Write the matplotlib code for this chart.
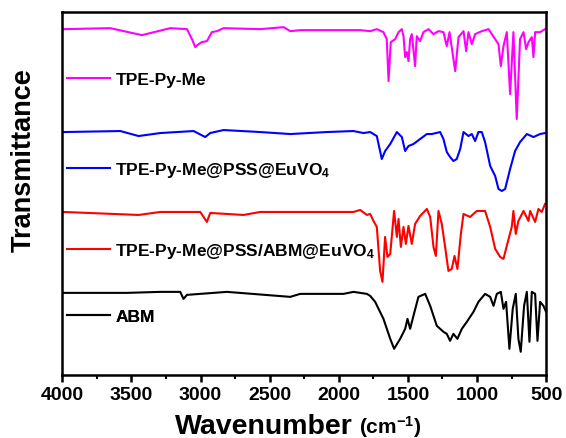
import numpy as np
import matplotlib
matplotlib.use("Agg")
import matplotlib.pyplot as plt
from matplotlib.ticker import MultipleLocator

plt.rcParams['font.family'] = ['Liberation Sans', 'DejaVu Sans']
plt.rcParams['font.weight'] = 'bold'
plt.rcParams['mathtext.fontset'] = 'custom'
plt.rcParams['mathtext.default'] = 'bf'
plt.rcParams['mathtext.bf'] = 'Liberation Sans:bold'
plt.rcParams['mathtext.rm'] = 'Liberation Sans:bold'

# ---- spectra (wavenumber, stacked transmittance a.u.) ----
wn_me = [3990, 3653, 3424, 3219, 3098, 3062, 3038, 3014, 2990, 2954, 2918, 2881, 2833,
         2568, 2399, 2351, 2279, 1966, 1845,
         1773, 1725, 1677, 1653, 1640, 1624, 1592, 1568, 1544, 1532, 1520, 1508, 1496,
         1484, 1472, 1448, 1436, 1412, 1388, 1351, 1315, 1279, 1243, 1219, 1199, 1158,
         1134, 1098, 1079, 1062, 1038, 1014, 966, 917, 869, 845, 828, 809, 785, 761,
         737, 713, 689, 664, 645, 628, 604, 592, 580, 544, 508]
t_me = [346, 347, 340, 347, 346, 336, 328, 331, 333, 334, 343, 344, 347,
        346, 348, 344, 345, 345, 345,
        344, 346, 343, 336, 294, 333, 336, 343, 346, 339, 318, 323, 314,
        336, 341, 309, 339, 334, 343, 346, 341, 344, 343, 329, 343, 304,
        338, 344, 324, 343, 331, 341, 344, 346, 336, 331, 309, 329, 343, 281,
        343, 256, 336, 343, 326, 333, 338, 318, 343, 343, 346]

wn_pss = [3990, 3580, 3448, 3291, 3050, 2966, 2930, 2833, 2568, 2351, 2086, 1894, 1821,
          1773, 1725, 1689, 1665, 1628, 1580, 1544, 1520, 1496, 1460, 1412, 1363, 1327,
          1267, 1243, 1219, 1195, 1171, 1147, 1122, 1098, 1062, 1038, 1014, 990, 966,
          942, 905, 869, 845, 821, 797, 761, 725, 689, 640, 592, 544, 508]
t_pss = [243, 244, 239, 242, 244, 238, 242, 245, 243, 241, 243, 244, 242,
         243, 239, 216, 224, 231, 243, 238, 224, 229, 231, 236, 241, 241,
         243, 236, 223, 218, 214, 216, 226, 243, 239, 241, 234, 243, 243,
         233, 209, 199, 186, 184, 186, 206, 224, 233, 241, 238, 241, 242]

wn_abm_pss = [3990, 3448, 3291, 3002, 2954, 2930, 2689, 2568, 1894, 1845, 1797,
              1773, 1749, 1725, 1701, 1684, 1665, 1648, 1628, 1600, 1580, 1568, 1551,
              1532, 1515, 1496, 1472, 1448, 1412, 1363, 1339, 1315, 1298, 1279, 1255,
              1231, 1207, 1183, 1163, 1142, 1117, 1098, 1050, 1002, 942, 905, 869, 833,
              809, 785, 749, 737, 720, 701, 664, 628, 616, 580, 556, 532, 508]
t_abm_pss = [163, 160, 163, 163, 153, 162, 160, 163, 163, 165, 160,
             161, 154, 148, 104, 93, 138, 118, 121, 164, 138, 156, 128,
             148, 131, 149, 131, 151, 159, 166, 158, 128, 119, 164, 151,
             128, 104, 106, 119, 106, 141, 161, 158, 164, 164, 148, 126, 118,
             116, 129, 148, 164, 141, 154, 164, 154, 164, 153, 166, 163, 171]

wn_abm = [3990, 3532, 3291, 3147, 3123, 3098, 2809, 2351, 2279, 1966, 1894, 1797,
          1773, 1737, 1677, 1628, 1600, 1556, 1520, 1503, 1484, 1460, 1424, 1375, 1339,
          1291, 1243, 1219, 1195, 1171, 1142, 1110, 1074, 1026, 990, 942, 905, 881, 857,
          828, 809, 790, 766, 742, 720, 701, 684, 660, 640, 621, 604, 580, 563, 544,
          520, 501]
t_abm = [82, 82, 83, 83, 76, 80, 83, 78, 81, 81, 83, 81,
         79, 73, 56, 36, 26, 36, 46, 56, 46, 59, 78, 81, 69,
         49, 43, 41, 34, 41, 36, 46, 53, 63, 73, 81, 78, 69, 81,
         83, 66, 73, 26, 66, 81, 36, 23, 69, 83, 33, 83, 81, 34, 73,
         69, 63]

series = [
    (wn_me, t_me, '#ff00ff', 'TPE-Py-Me', 0.815),
    (wn_pss, t_pss, '#0000ff', 'TPE-Py-Me@PSS@EuVO$_4$', 0.567),
    (wn_abm_pss, t_abm_pss, '#ff0000', 'TPE-Py-Me@PSS/ABM@EuVO$_4$', 0.342),
    (wn_abm, t_abm, '#000000', 'ABM', 0.160),
]

fig = plt.figure(figsize=(5.66, 4.39), dpi=100)
ax = fig.add_axes([0.110, 0.144, 0.855, 0.826])

for wn, t, color, label, ly in series:
    line, = ax.plot(wn, t, color=color, lw=1.5)
    leg = ax.legend([line], [label], loc='center left', bbox_to_anchor=(-0.023, ly),
                    frameon=False, handlelength=2.5, handletextpad=0.3,
                    prop={'size': 12.5, 'weight': 'bold'})
    ax.add_artist(leg)

ax.set_xlim(4000, 500)
ax.set_ylim(0, 363)
ax.xaxis.set_major_locator(MultipleLocator(500))
ax.xaxis.set_minor_locator(MultipleLocator(250))
ax.set_yticks([])
ax.tick_params(axis='x', which='major', direction='out', length=5, width=1.8,
               labelsize=14, pad=3)
ax.tick_params(axis='x', which='minor', direction='out', length=3, width=1.5)
for lab in ax.get_xticklabels():
    lab.set_fontweight('bold')
for sp in ax.spines.values():
    sp.set_linewidth(1.8)

fig.text(24 / 566, 1 - 160 / 439, 'Transmittance', rotation=90, ha='center',
         va='center', fontsize=19.5, fontweight='bold')
fig.text(175 / 566, 0.012, 'Wavenumber', ha='left', va='baseline',
         fontsize=20.5, fontweight='bold')
fig.text(359 / 566, 0.012, '(cm$^{-1}$)', ha='left', va='baseline',
         fontsize=15, fontweight='bold')

fig.savefig('out.png', dpi=100, facecolor='white')
